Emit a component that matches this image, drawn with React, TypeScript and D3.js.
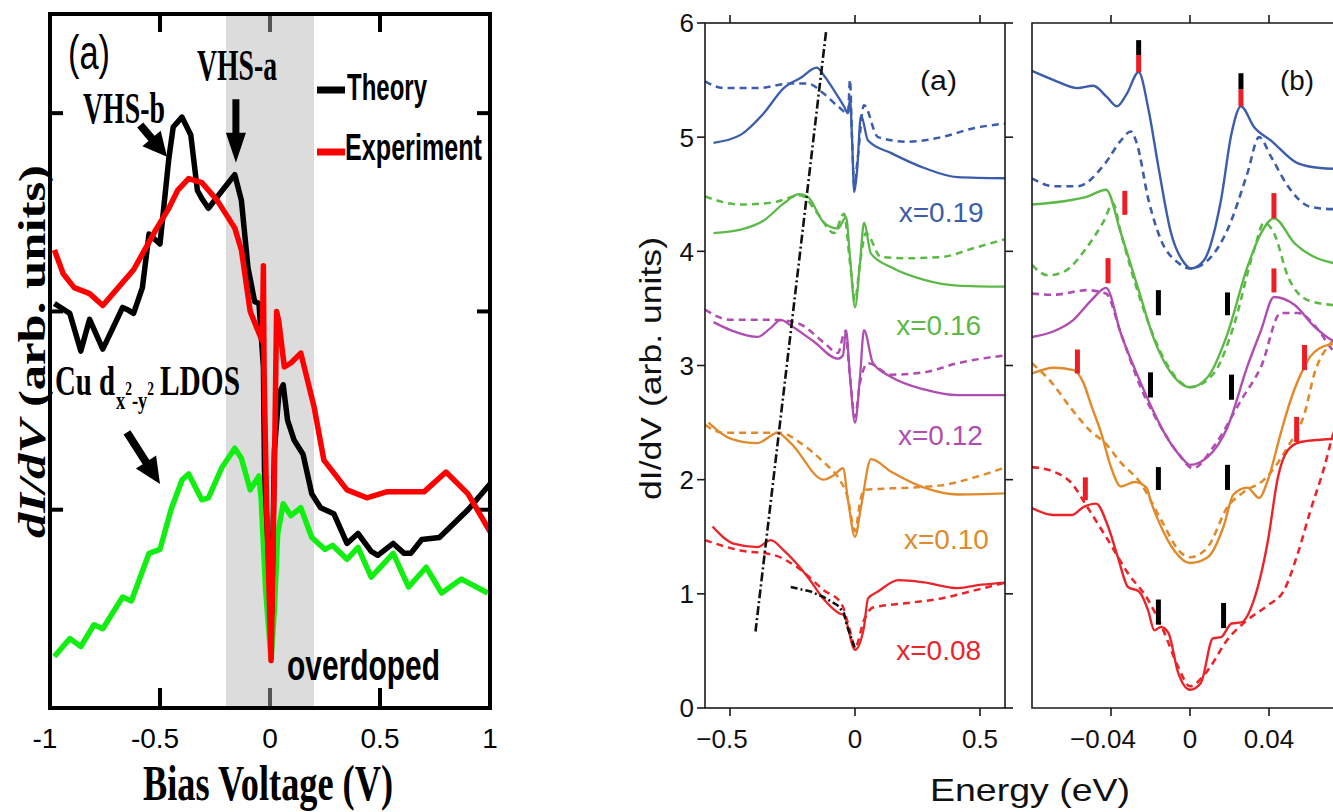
import React from 'react';
import * as d3 from 'd3';

type Pt = [number, number];
type Mark = [number, number, number]; // x, y from, y to

const SANS = '"Liberation Sans", Arial, Helvetica, sans-serif';
const SERIF = '"Liberation Serif", "Times New Roman", serif';

// ---------- left figure: theory vs experiment ----------
const biasTicks = [-1, -0.5, 0, 0.5, 1];
const biasTickLabels = ['-1', '-0.5', '0', '0.5', '1'];
const leftYTicks = [1, 2, 3];
const shadedBias: Pt = [-0.2, 0.2];

const experiment: Pt[] = [
  [-0.98, 2.31], [-0.94, 2.19], [-0.89, 2.12], [-0.82, 2.09], [-0.76, 2.03], [-0.69, 2.12],
  [-0.62, 2.21], [-0.52, 2.41], [-0.46, 2.52], [-0.42, 2.61], [-0.37, 2.67], [-0.31, 2.65],
  [-0.24, 2.56], [-0.16, 2.42], [-0.13, 2.31], [-0.09, 2.0], [-0.05, 1.89], [-0.035, 1.85],
  [-0.03, 2.23], [-0.027, 1.7], [-0.015, 1.0], [0.005, 0.24], [0.02, 1.2], [0.03, 2.0],
  [0.04, 1.95], [0.065, 1.72], [0.095, 1.74], [0.14, 1.79], [0.2, 1.52], [0.245, 1.25],
  [0.35, 1.1], [0.44, 1.06], [0.53, 1.09], [0.7, 1.09], [0.8, 1.19], [0.9, 1.08], [1.0, 0.89],
];

const theory: Pt[] = [
  [-0.98, 2.04], [-0.91, 1.99], [-0.86, 1.8], [-0.82, 1.96], [-0.76, 1.81], [-0.67, 2.02],
  [-0.65, 2.01], [-0.62, 1.99], [-0.58, 2.12], [-0.55, 2.39], [-0.52, 2.36], [-0.5, 2.34],
  [-0.46, 2.77], [-0.44, 2.93], [-0.4, 2.98], [-0.36, 2.89], [-0.33, 2.61], [-0.31, 2.57],
  [-0.28, 2.52], [-0.21, 2.62], [-0.16, 2.69], [-0.13, 2.56], [-0.1, 2.22], [-0.07, 2.05],
  [-0.05, 2.04], [-0.03, 1.72], [-0.025, 1.2], [0.0, 0.6], [0.008, 0.48], [0.02, 1.3],
  [0.04, 1.58], [0.06, 1.63], [0.08, 1.45], [0.11, 1.35], [0.15, 1.28], [0.19, 1.08],
  [0.23, 1.01], [0.29, 0.98], [0.35, 0.83], [0.4, 0.88], [0.46, 0.79], [0.49, 0.77],
  [0.56, 0.83], [0.61, 0.78], [0.64, 0.78], [0.69, 0.85], [0.77, 0.86], [0.9, 1.0], [1.0, 1.13],
];

const cuLdos: Pt[] = [
  [-0.98, 0.26], [-0.91, 0.35], [-0.86, 0.31], [-0.8, 0.42], [-0.76, 0.4], [-0.67, 0.56],
  [-0.63, 0.54], [-0.55, 0.78], [-0.5, 0.8], [-0.45, 1.0], [-0.4, 1.15], [-0.37, 1.18],
  [-0.31, 1.05], [-0.28, 1.06], [-0.22, 1.21], [-0.16, 1.31], [-0.13, 1.26], [-0.09, 1.1],
  [-0.05, 1.17], [-0.04, 1.05], [-0.02, 0.6], [0.005, 0.24], [0.02, 0.5], [0.035, 0.88],
  [0.06, 1.03], [0.095, 0.97], [0.14, 1.01], [0.19, 0.86], [0.25, 0.8], [0.285, 0.82],
  [0.35, 0.75], [0.4, 0.81], [0.46, 0.66], [0.56, 0.78], [0.63, 0.61], [0.71, 0.71],
  [0.78, 0.58], [0.87, 0.65], [0.99, 0.58],
];

// ---------- middle figure: doping series ----------
const energyTicks = [-0.5, 0, 0.5];
const energyTickLabels = ['\u22120.5', '0', '0.5'];
const didvTicks = [0, 1, 2, 3, 4, 5, 6];
const dopings = ['x=0.19', 'x=0.16', 'x=0.12', 'x=0.10', 'x=0.08'];
const dopingColors = ['#3b5dab', '#5cb947', '#b04db2', '#e08a2c', '#ea252a'];

const midSolid: Pt[][] = [
  [[-0.566, 4.95], [-0.458, 5.02], [-0.365, 5.21], [-0.285, 5.43], [-0.217, 5.52], [-0.153, 5.61],
   [-0.124, 5.54], [-0.084, 5.41], [-0.044, 5.27], [-0.028, 5.21], [-0.02, 5.33], [-0.012, 5.0],
   [-0.003, 4.52], [0.008, 4.7], [0.024, 5.19], [0.052, 4.97], [0.145, 4.86], [0.277, 4.73],
   [0.41, 4.65], [0.6, 4.64]],
  [[-0.566, 4.16], [-0.458, 4.19], [-0.365, 4.27], [-0.285, 4.42], [-0.225, 4.5], [-0.19, 4.48],
   [-0.124, 4.25], [-0.068, 4.2], [-0.036, 4.3], [-0.02, 3.95], [0, 3.51], [0.02, 3.9],
   [0.036, 4.25], [0.064, 3.98], [0.145, 3.86], [0.277, 3.75], [0.41, 3.7], [0.6, 3.69]],
  [[-0.566, 3.38], [-0.498, 3.31], [-0.39, 3.25], [-0.337, 3.33], [-0.297, 3.4], [-0.257, 3.35],
   [-0.165, 3.21], [-0.068, 3.06], [-0.048, 3.09], [-0.036, 3.31], [-0.02, 2.9], [0, 2.5],
   [0.02, 2.9], [0.036, 3.31], [0.072, 3.02], [0.145, 2.9], [0.277, 2.79], [0.41, 2.74], [0.6, 2.74]],
  [[-0.586, 2.5], [-0.498, 2.36], [-0.39, 2.32], [-0.31, 2.41], [-0.257, 2.32], [-0.124, 2.0],
   [-0.084, 2.04], [-0.048, 2.1], [-0.028, 1.82], [0, 1.5], [0.024, 1.76], [0.064, 2.18],
   [0.145, 2.07], [0.277, 1.93], [0.41, 1.87], [0.606, 1.88]],
  [[-0.57, 1.59], [-0.486, 1.44], [-0.39, 1.41], [-0.337, 1.47], [-0.285, 1.38], [-0.19, 1.15],
   [-0.124, 0.95], [-0.064, 0.83], [-0.044, 0.81], [0, 0.51], [0.036, 0.71], [0.052, 0.96],
   [0.092, 1.02], [0.173, 1.12], [0.277, 1.1], [0.41, 1.05], [0.506, 1.08], [0.606, 1.1]],
];

const midDashed: Pt[][] = [
  [[-0.6, 5.49], [-0.525, 5.43], [-0.39, 5.43], [-0.257, 5.47], [-0.19, 5.47], [-0.124, 5.38],
   [-0.068, 5.27], [-0.028, 5.21], [-0.02, 5.5], [-0.012, 5.0], [-0.003, 4.57], [0.01, 4.8],
   [0.036, 5.28], [0.092, 5.0], [0.213, 4.96], [0.345, 5.0], [0.478, 5.08], [0.606, 5.12]],
  [[-0.6, 4.48], [-0.458, 4.41], [-0.325, 4.43], [-0.217, 4.49], [-0.149, 4.33], [-0.084, 4.16],
   [-0.044, 4.33], [-0.02, 3.9], [0, 3.57], [0.02, 3.9], [0.044, 4.16], [0.104, 3.95],
   [0.213, 3.94], [0.345, 3.95], [0.478, 4.03], [0.606, 4.11]],
  [[-0.6, 3.49], [-0.498, 3.4], [-0.325, 3.4], [-0.229, 3.37], [-0.124, 3.2], [-0.068, 3.11],
   [-0.04, 3.3], [-0.02, 2.9], [0, 2.55], [0.02, 2.85], [0.052, 3.02], [0.145, 2.92],
   [0.277, 2.94], [0.41, 3.02], [0.606, 3.09]],
  [[-0.6, 2.48], [-0.525, 2.41], [-0.297, 2.41], [-0.217, 2.32], [-0.124, 2.15], [-0.068, 2.02],
   [-0.03, 1.85], [0, 1.55], [0.02, 1.8], [0.036, 1.91], [0.213, 1.93], [0.345, 1.95],
   [0.478, 2.02], [0.606, 2.11]],
  [[-0.6, 1.47], [-0.458, 1.38], [-0.325, 1.34], [-0.217, 1.21], [-0.124, 1.03], [-0.056, 0.92],
   [-0.024, 0.71], [0, 0.53], [0.036, 0.77], [0.072, 0.88], [0.213, 0.92], [0.345, 0.96],
   [0.478, 1.03], [0.606, 1.1]],
];

const humpGuide: Pt[] = [[-0.116, 5.92], [-0.398, 0.67]];
const underdopedGuide: Pt[] = [
  [-0.257, 1.06], [-0.177, 1.02], [-0.124, 0.97], [-0.07, 0.9], [-0.044, 0.83], [-0.032, 0.72], [0, 0.52],
];

// ---------- right figure: low-energy zoom ----------
const gapTicks = [-0.04, 0, 0.04];
const gapTickLabels = ['\u22120.04', '0', '0.04'];

const zoomSolid: Pt[][] = [
  [[-0.08, 5.58], [-0.069, 5.5], [-0.057, 5.43], [-0.049, 5.45], [-0.042, 5.35], [-0.037, 5.27],
   [-0.032, 5.38], [-0.026, 5.57], [-0.021, 5.24], [-0.016, 4.74], [-0.0096, 4.16], [-0.003, 3.9],
   [0.0005, 3.85], [0.007, 3.92], [0.0157, 4.45], [0.021, 5.03], [0.0258, 5.27], [0.0324, 5.09],
   [0.041, 4.97], [0.0547, 4.77], [0.066, 4.73], [0.08, 4.72]],
  [[-0.08, 4.41], [-0.06, 4.45], [-0.052, 4.48], [-0.0425, 4.54], [-0.035, 4.16], [-0.026, 3.66],
   [-0.018, 3.22], [-0.008, 2.9], [0, 2.81], [0.009, 2.9], [0.019, 3.28], [0.029, 3.86],
   [0.036, 4.16], [0.0425, 4.29], [0.053, 4.07], [0.063, 3.95], [0.072, 3.9], [0.08, 3.88]],
  [[-0.08, 3.25], [-0.069, 3.3], [-0.059, 3.4], [-0.05, 3.57], [-0.0425, 3.68], [-0.035, 3.28],
   [-0.025, 2.85], [-0.018, 2.58], [-0.011, 2.35], [-0.0046, 2.2], [0, 2.13], [0.009, 2.2],
   [0.019, 2.46], [0.029, 2.99], [0.036, 3.31], [0.0425, 3.6], [0.053, 3.53], [0.063, 3.34],
   [0.072, 3.22], [0.08, 3.18]],
  [[-0.08, 2.93], [-0.069, 2.98], [-0.059, 2.96], [-0.054, 2.85], [-0.05, 2.65], [-0.045, 2.41],
   [-0.04, 2.11], [-0.035, 1.94], [-0.028, 1.98], [-0.022, 1.93], [-0.02, 1.82], [-0.0147, 1.59],
   [-0.008, 1.38], [0, 1.27], [0.009, 1.32], [0.017, 1.59], [0.022, 1.87], [0.029, 1.93],
   [0.035, 1.84], [0.0395, 2.0], [0.046, 2.41], [0.051, 2.7], [0.058, 2.99], [0.061, 3.08],
   [0.07, 3.18], [0.08, 3.2]],
  [[-0.08, 1.75], [-0.069, 1.69], [-0.06, 1.69], [-0.054, 1.76], [-0.0476, 1.79], [-0.0415, 1.59],
   [-0.0365, 1.32], [-0.0314, 1.06], [-0.0258, 1.02], [-0.0213, 0.86], [-0.018, 0.68],
   [-0.0147, 0.71], [-0.011, 0.66], [-0.006, 0.31], [0, 0.16], [0.0055, 0.22], [0.0116, 0.61],
   [0.0157, 0.62], [0.021, 0.74], [0.026, 0.75], [0.0324, 0.95], [0.0395, 1.47], [0.0445, 2.02],
   [0.0496, 2.26], [0.056, 2.33], [0.066, 2.35], [0.08, 2.36]],
];

const zoomDashed: Pt[][] = [
  [[-0.08, 4.64], [-0.069, 4.57], [-0.057, 4.57], [-0.043, 4.77], [-0.035, 4.97], [-0.03, 5.05],
   [-0.027, 4.95], [-0.021, 4.45], [-0.0147, 4.1], [-0.006, 3.9], [0, 3.85], [0.0106, 3.95],
   [0.019, 4.19], [0.029, 4.68], [0.035, 5.0], [0.041, 4.83], [0.0496, 4.57], [0.061, 4.39],
   [0.072, 4.37], [0.08, 4.37]],
  [[-0.08, 3.88], [-0.072, 3.79], [-0.064, 3.82], [-0.052, 4.04], [-0.0435, 4.27], [-0.039, 4.42],
   [-0.035, 4.16], [-0.025, 3.57], [-0.0147, 3.11], [-0.0046, 2.85], [0, 2.81], [0.012, 2.93],
   [0.022, 3.34], [0.0324, 4.01], [0.0375, 4.25], [0.0425, 4.16], [0.0496, 3.78], [0.06, 3.57],
   [0.072, 3.53], [0.08, 3.52]],
  [[-0.08, 3.63], [-0.069, 3.62], [-0.052, 3.66], [-0.0425, 3.63], [-0.035, 3.28], [-0.025, 2.81],
   [-0.0147, 2.46], [-0.006, 2.23], [0.0015, 2.1], [0.012, 2.29], [0.026, 2.7], [0.036, 2.99],
   [0.046, 3.46], [0.0547, 3.46], [0.065, 3.31], [0.072, 3.14], [0.08, 3.05]],
  [[-0.08, 3.02], [-0.07, 2.85], [-0.06, 2.62], [-0.05, 2.42], [-0.0435, 2.33], [-0.035, 2.15],
   [-0.025, 1.97], [-0.0147, 1.65], [-0.0046, 1.36], [0, 1.32], [0.009, 1.41], [0.019, 1.76],
   [0.027, 1.89], [0.0375, 2.0], [0.0496, 2.29], [0.058, 2.58], [0.063, 2.93], [0.0715, 3.2],
   [0.08, 3.3]],
  [[-0.08, 2.11], [-0.069, 2.07], [-0.06, 1.97], [-0.052, 1.76], [-0.0415, 1.47], [-0.0314, 1.18],
   [-0.0213, 0.95], [-0.013, 0.66], [-0.006, 0.36], [0, 0.19], [0.009, 0.33], [0.019, 0.6],
   [0.029, 0.77], [0.0395, 0.9], [0.0476, 1.03], [0.0547, 1.36], [0.061, 1.73], [0.068, 2.11],
   [0.072, 2.37], [0.08, 2.7]],
];

// peak (red) and gap (black) markers
const peakMarks: Mark[] = [
  [-0.026, 5.57, 5.72], [0.0258, 5.27, 5.42],
  [-0.033, 4.32, 4.53], [0.0425, 4.29, 4.51],
  [-0.0415, 3.72, 3.94], [0.0425, 3.64, 3.85],
  [-0.057, 2.93, 3.14], [0.058, 2.96, 3.18],
  [-0.053, 1.82, 2.02], [0.054, 2.33, 2.55],
];
const gapMarks: Mark[] = [
  [-0.026, 5.72, 5.85], [0.0258, 5.42, 5.56],
  [-0.016, 3.44, 3.66], [0.019, 3.44, 3.64],
  [-0.02, 2.72, 2.94], [0.021, 2.7, 2.92],
  [-0.016, 1.91, 2.11], [0.019, 1.91, 2.13],
  [-0.016, 0.73, 0.95], [0.017, 0.7, 0.92],
];

// filled block arrow from (x1,y1) to tip (x2,y2), pixel units
function arrowPath(x1: number, y1: number, x2: number, y2: number, shaft: number, headLen: number, headW: number) {
  const dx = x2 - x1, dy = y2 - y1;
  const L = Math.hypot(dx, dy);
  const ux = dx / L, uy = dy / L;
  const nx = -uy, ny = ux;
  const bx = x2 - ux * headLen, by = y2 - uy * headLen;
  const p = [
    [x1 + nx * shaft / 2, y1 + ny * shaft / 2],
    [bx + nx * shaft / 2, by + ny * shaft / 2],
    [bx + nx * headW / 2, by + ny * headW / 2],
    [x2, y2],
    [bx - nx * headW / 2, by - ny * headW / 2],
    [bx - nx * shaft / 2, by - ny * shaft / 2],
    [x1 - nx * shaft / 2, y1 - ny * shaft / 2],
  ];
  return 'M' + p.map(q => q.join(',')).join('L') + 'Z';
}

function LeftPanel() {
  const x = d3.scaleLinear().domain([-1, 1]).range([50, 490]);
  const y = d3.scaleLinear().domain([0, 3.5]).range([708, 14]);
  const line = d3.line<Pt>().x(d => x(d[0])).y(d => y(d[1]));
  const arrows = [
    { from: [-0.59, 2.94], to: [-0.468, 2.78], shaft: 8, head: 24, w: 24 },
    { from: [-0.155, 3.07], to: [-0.155, 2.75], shaft: 7, head: 30, w: 20 },
    { from: [-0.65, 1.39], to: [-0.5, 1.13], shaft: 8, head: 26, w: 24 },
  ];
  return (
    <g>
      <rect x={x(shadedBias[0])} y={y(3.5)} width={x(shadedBias[1]) - x(shadedBias[0])}
        height={y(0) - y(3.5)} fill="#dcdcdc" />
      {biasTicks.map(t => (
        <g key={t} stroke={t === 0 ? '#555' : '#000'} strokeWidth={4}>
          <line x1={x(t)} x2={x(t)} y1={y(0)} y2={y(0) - 20} />
          <line x1={x(t)} x2={x(t)} y1={y(3.5)} y2={y(3.5) + 18} />
        </g>
      ))}
      {leftYTicks.map(t => (
        <g key={t} stroke="#000" strokeWidth={4}>
          <line x1={x(-1)} x2={x(-1) + 13} y1={y(t)} y2={y(t)} />
          <line x1={x(1)} x2={x(1) - 13} y1={y(t)} y2={y(t)} />
        </g>
      ))}
      <path d={line(cuLdos) ?? ''} fill="none" stroke="#12ee12" strokeWidth={5.5} strokeLinejoin="round" />
      <path d={line(theory) ?? ''} fill="none" stroke="#000" strokeWidth={5.5} strokeLinejoin="round" />
      <path d={line(experiment) ?? ''} fill="none" stroke="#ff0000" strokeWidth={5.5} strokeLinejoin="round" />
      <rect x={x(-1)} y={y(3.5)} width={x(1) - x(-1)} height={y(0) - y(3.5)} fill="none" stroke="#000" strokeWidth={4} />
      {biasTicks.map((t, i) => (
        <text key={t} x={x(t) - (t < 0 ? 5 : 0)} y={748} textAnchor="middle" fontFamily={SANS} fontSize={28}>
          {biasTickLabels[i]}
        </text>
      ))}
      {arrows.map((a, i) => (
        <path key={i} d={arrowPath(x(a.from[0]), y(a.from[1]), x(a.to[0]), y(a.to[1]), a.shaft, a.head, a.w)} fill="#000" />
      ))}
      <text x={68} y={69} fontFamily={SANS} fontSize={48} textLength={42} lengthAdjust="spacingAndGlyphs">(a)</text>
      <text x={197} y={80} fontFamily={SERIF} fontWeight="bold" fontSize={45} textLength={80} lengthAdjust="spacingAndGlyphs">VHS-a</text>
      <text x={83} y={123} fontFamily={SERIF} fontWeight="bold" fontSize={45} textLength={82} lengthAdjust="spacingAndGlyphs">VHS-b</text>
      <line x1={317} x2={345} y1={90} y2={90} stroke="#000" strokeWidth={7} />
      <line x1={317} x2={345} y1={152} y2={152} stroke="#ff0000" strokeWidth={7} />
      <text x={347} y={100} fontFamily={SANS} fontWeight="bold" fontSize={36} textLength={80} lengthAdjust="spacingAndGlyphs">Theory</text>
      <text x={345} y={160} fontFamily={SANS} fontWeight="bold" fontSize={36} textLength={137} lengthAdjust="spacingAndGlyphs">Experiment</text>
      <g fontFamily={SERIF} fontWeight="bold">
        <text x={55} y={395} fontSize={42} textLength={60} lengthAdjust="spacingAndGlyphs">Cu d</text>
        <text x={116} y={409} fontSize={26} textLength={38} lengthAdjust="spacingAndGlyphs">
          x<tspan fontSize={19} dy={-14}>2</tspan><tspan dy={14}>-y</tspan><tspan fontSize={19} dy={-14}>2</tspan>
        </text>
        <text x={160} y={395} fontSize={42} textLength={80} lengthAdjust="spacingAndGlyphs">LDOS</text>
      </g>
      <text x={287} y={680} fontFamily={SANS} fontWeight="bold" fontSize={42} textLength={153} lengthAdjust="spacingAndGlyphs">overdoped</text>
      <text x={143} y={800} fontFamily={SERIF} fontWeight="bold" fontSize={50} textLength={250} lengthAdjust="spacingAndGlyphs">Bias Voltage (V)</text>
      <text transform="translate(45,538) rotate(-90)" fontFamily={SERIF} fontWeight="bold" fontSize={38} textLength={373} lengthAdjust="spacingAndGlyphs">
        <tspan fontStyle="italic">dI/dV</tspan> (arb. units)
      </text>
    </g>
  );
}

function SpectraPanel() {
  const x = d3.scaleLinear().domain([-0.6, 0.6]).range([705, 1005]);
  const y = d3.scaleLinear().domain([0, 6]).range([708, 23]);
  const curve = d3.line<Pt>().x(d => x(d[0])).y(d => y(d[1])).curve(d3.curveMonotoneX);
  const straight = d3.line<Pt>().x(d => x(d[0])).y(d => y(d[1]));
  const labelAt: Pt[] = [[0.175, 4.26], [0.165, 3.27], [0.172, 2.3], [0.196, 1.39], [0.165, 0.42]];
  return (
    <g>
      <defs>
        <clipPath id="clipMid"><rect x={705} y={23} width={300} height={685} /></clipPath>
      </defs>
      <g clipPath="url(#clipMid)" fill="none" strokeLinejoin="round">
        {midDashed.map((s, i) => (
          <path key={'d' + i} d={curve(s) ?? ''} stroke={dopingColors[i]} strokeWidth={2.5} strokeDasharray="7,5" />
        ))}
        {midSolid.map((s, i) => (
          <path key={'s' + i} d={curve(s) ?? ''} stroke={dopingColors[i]} strokeWidth={2.3} />
        ))}
        <path d={straight(humpGuide) ?? ''} stroke="#111" strokeWidth={2.6} strokeDasharray="9,3,2,3" />
        <path d={straight(underdopedGuide) ?? ''} stroke="#111" strokeWidth={2.6} strokeDasharray="7,3,2,3" />
      </g>
      <rect x={705} y={23} width={300} height={685} fill="none" stroke="#1a1a1a" strokeWidth={1.6} />
      {didvTicks.map(t => (
        <g key={t}>
          <line x1={697} x2={705} y1={y(t)} y2={y(t)} stroke="#1a1a1a" strokeWidth={1.6} />
          <line x1={1005} x2={1013} y1={y(t)} y2={y(t)} stroke="#1a1a1a" strokeWidth={1.6} />
          <text x={694} y={y(t)} dy="0.36em" textAnchor="end" fontFamily={SANS} fontSize={26} fill="#111">{t}</text>
        </g>
      ))}
      {energyTicks.map((t, i) => (
        <g key={t}>
          <line x1={x(t)} x2={x(t)} y1={23} y2={15} stroke="#1a1a1a" strokeWidth={1.6} />
          <line x1={x(t)} x2={x(t)} y1={708} y2={716} stroke="#1a1a1a" strokeWidth={1.6} />
          <text x={x(t) - (t < 0 ? 8 : 0)} y={748} textAnchor="middle" fontFamily={SANS} fontSize={26} fill="#111">
            {energyTickLabels[i]}
          </text>
        </g>
      ))}
      {dopings.map((d, i) => (
        <text key={d} x={x(labelAt[i][0])} y={y(labelAt[i][1])} fontFamily={SANS} fontSize={28} fill={dopingColors[i]}>{d}</text>
      ))}
      <text x={920} y={90} fontFamily={SANS} fontSize={27} textLength={37} lengthAdjust="spacingAndGlyphs" fill="#111">(a)</text>
      <text transform="translate(661,500) rotate(-90)" fontFamily={SANS} fontSize={30} textLength={263} lengthAdjust="spacingAndGlyphs" fill="#111">
        dI/dV (arb. units)
      </text>
      <text x={930} y={801} fontFamily={SANS} fontSize={32} textLength={200} lengthAdjust="spacingAndGlyphs" fill="#111">Energy (eV)</text>
    </g>
  );
}

function GapPanel() {
  const x = d3.scaleLinear().domain([-0.08, 0.08]).range([1032, 1348]);
  const y = d3.scaleLinear().domain([0, 6]).range([708, 23]);
  const curve = d3.line<Pt>().x(d => x(d[0])).y(d => y(d[1])).curve(d3.curveMonotoneX);
  return (
    <g>
      <defs>
        <clipPath id="clipRight"><rect x={1032} y={23} width={316} height={685} /></clipPath>
      </defs>
      <g clipPath="url(#clipRight)" fill="none" strokeLinejoin="round">
        {zoomDashed.map((s, i) => (
          <path key={'d' + i} d={curve(s) ?? ''} stroke={dopingColors[i]} strokeWidth={2.6} strokeDasharray="7,5" />
        ))}
        {zoomSolid.map((s, i) => (
          <path key={'s' + i} d={curve(s) ?? ''} stroke={dopingColors[i]} strokeWidth={2.4} />
        ))}
      </g>
      {peakMarks.map((m, i) => (
        <line key={'p' + i} x1={x(m[0])} x2={x(m[0])} y1={y(m[1])} y2={y(m[2])} stroke="#ee1c24" strokeWidth={5} />
      ))}
      {gapMarks.map((m, i) => (
        <line key={'g' + i} x1={x(m[0])} x2={x(m[0])} y1={y(m[1])} y2={y(m[2])} stroke="#000" strokeWidth={5} />
      ))}
      <path d={`M${x(0.08)},23H1032V708H${x(0.08)}`} fill="none" stroke="#1a1a1a" strokeWidth={1.6} />
      {gapTicks.map((t, i) => (
        <g key={t}>
          <line x1={x(t)} x2={x(t)} y1={23} y2={15} stroke="#1a1a1a" strokeWidth={1.6} />
          <line x1={x(t)} x2={x(t)} y1={708} y2={716} stroke="#1a1a1a" strokeWidth={1.6} />
          <text x={x(t) - (t < 0 ? 8 : 0)} y={748} textAnchor="middle" fontFamily={SANS} fontSize={26} fill="#111">
            {gapTickLabels[i]}
          </text>
        </g>
      ))}
      <text x={1280} y={90} fontFamily={SANS} fontSize={27} textLength={34} lengthAdjust="spacingAndGlyphs" fill="#111">(b)</text>
    </g>
  );
}

export default function App() {
  return (
    <svg width={1333} height={812} viewBox="0 0 1333 812"
      style={{ position: 'absolute', left: 0, top: 0, background: '#fff', display: 'block' }}>
      <rect width={1333} height={812} fill="#fff" />
      <LeftPanel />
      <SpectraPanel />
      <GapPanel />
    </svg>
  );
}
